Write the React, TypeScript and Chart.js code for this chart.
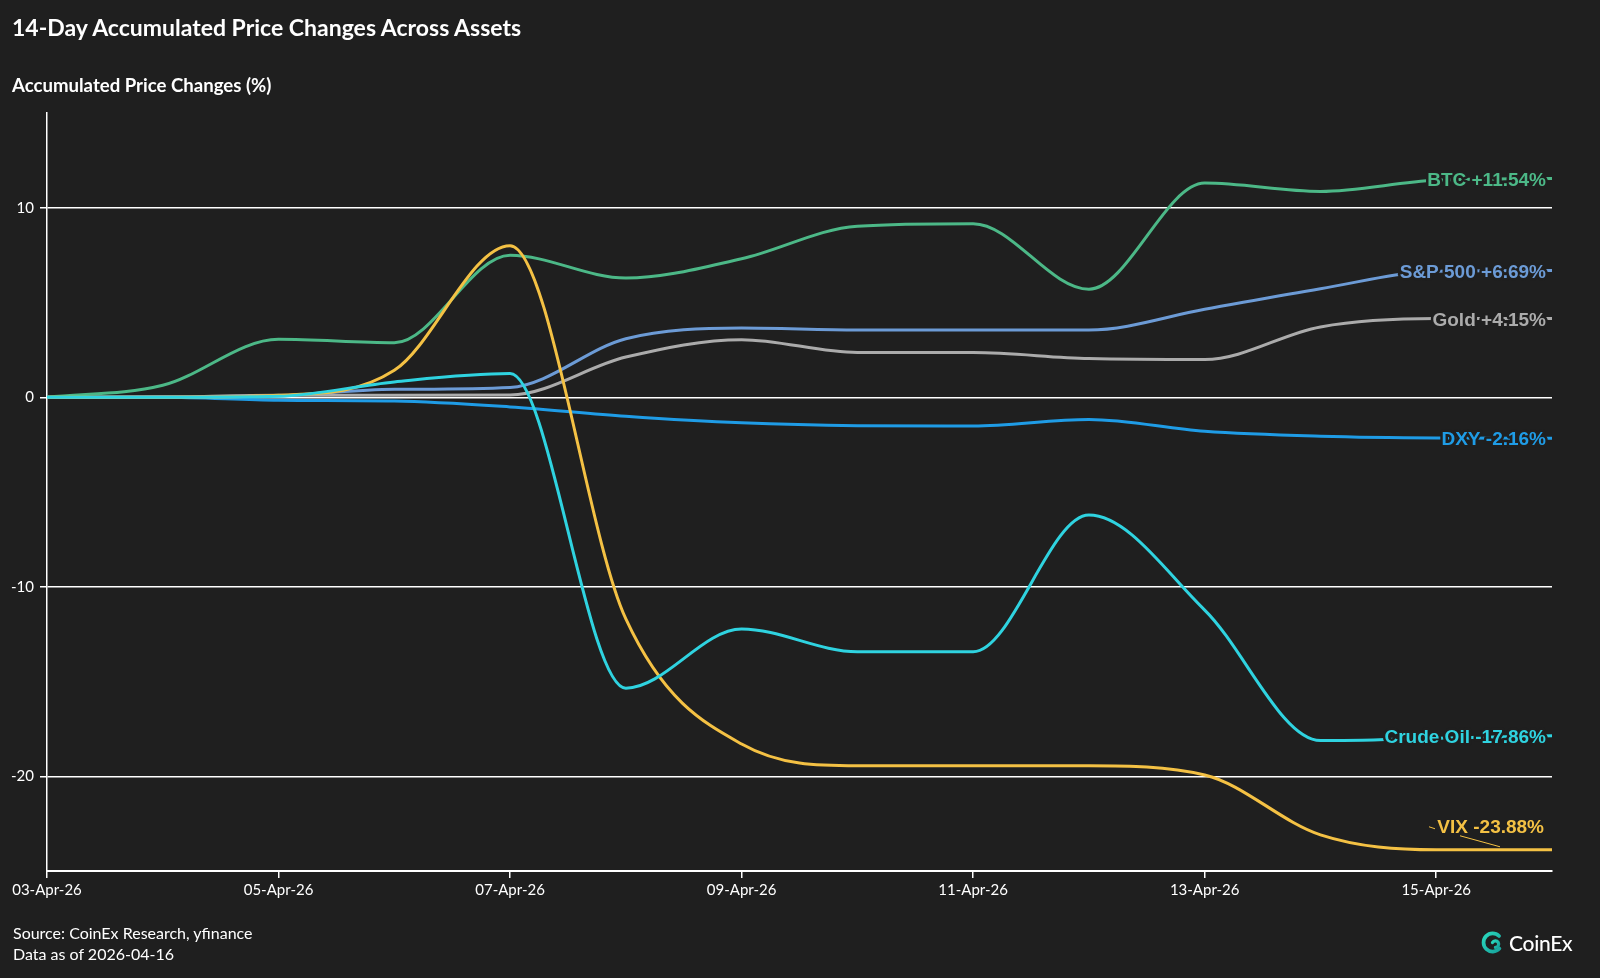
import React, { useEffect, useRef } from 'react';
import { Chart, registerables } from 'chart.js';

Chart.register(...registerables);

// Daily accumulated price changes (%) from 03-Apr-26 through 16-Apr-26
const dates = [
  '03-Apr-26', '04-Apr-26', '05-Apr-26', '06-Apr-26', '07-Apr-26', '08-Apr-26', '09-Apr-26',
  '10-Apr-26', '11-Apr-26', '12-Apr-26', '13-Apr-26', '14-Apr-26', '15-Apr-26', '16-Apr-26',
];
const btc = [0, 0.63, 3.06, 2.88, 7.49, 6.29, 7.31, 9.03, 9.16, 5.7, 11.3, 10.86, 11.45, 11.54];
const sp500 = [0, 0, 0.08, 0.42, 0.52, 3.09, 3.65, 3.55, 3.55, 3.55, 4.64, 5.73, 6.65, 6.69];
const gold = [0, 0.02, 0.1, 0.1, 0.12, 2.12, 3.04, 2.36, 2.36, 2.04, 1.99, 3.71, 4.15, 4.15];
const dxy = [0, 0, -0.16, -0.2, -0.51, -1.0, -1.35, -1.5, -1.52, -1.17, -1.8, -2.06, -2.15, -2.16];
const crudeOil = [0, 0, 0.05, 0.81, 1.25, -15.35, -12.23, -13.43, -13.43, -6.22, -11.23, -18.12, -17.99, -17.86];
const vix = [0, 0, 0.1, 1.42, 8.0, -11.7, -18.3, -19.45, -19.45, -19.45, -19.93, -23.09, -23.88, -23.88];

const yTicks = [-20, -10, 0, 10];

const BG = '#1f1f1f';
const FONT = 'Lato, "Open Sans", sans-serif';
const LABEL_FONT = 'bold 19px "Liberation Sans", Arial, sans-serif';

const series = [
  { name: 'Crude Oil', values: crudeOil, color: '#2fd3e0' },
  { name: 'VIX', values: vix, color: '#f4c144' },
  { name: 'BTC', values: btc, color: '#4cb887' },
  { name: 'S&P 500', values: sp500, color: '#6c9bd6' },
  { name: 'Gold', values: gold, color: '#ababab' },
  { name: 'DXY', values: dxy, color: '#1f9ce6' },
];

const fmt = (v: number) => `${v > 0 ? '+' : ''}${v.toFixed(2)}%`;

// Value labels at the right end of each line
const endLabels = {
  id: 'endLabels',
  afterDatasetsDraw(chart: any) {
    const ctx = chart.ctx;
    ctx.save();
    ctx.font = LABEL_FONT;
    ctx.textAlign = 'right';
    ctx.textBaseline = 'middle';
    chart.data.datasets.forEach((ds: any, i: number) => {
      const meta = chart.getDatasetMeta(i);
      const pt = meta.data[meta.data.length - 1];
      const last = ds.data[ds.data.length - 1];
      const text = `${ds.label} ${fmt(last)}`;
      if (ds.label === 'VIX') {
        const x = pt.x - 8;
        const y = pt.y - 22;
        ctx.strokeStyle = ds.borderColor;
        ctx.lineWidth = 1;
        ctx.beginPath();
        ctx.moveTo(x - 84, y + 8);
        ctx.lineTo(pt.x - 52, pt.y - 3);
        ctx.stroke();
        ctx.beginPath();
        ctx.moveTo(x - 115, y - 1);
        ctx.lineTo(x - 109, y + 1);
        ctx.stroke();
        ctx.fillStyle = ds.borderColor;
        ctx.fillText(text, x, y);
      } else {
        const x = pt.x - 6;
        const y = pt.y + 2;
        ctx.lineJoin = 'round';
        ctx.lineWidth = 5;
        ctx.strokeStyle = BG;
        ctx.strokeText(text, x, y);
        ctx.fillStyle = ds.borderColor;
        ctx.fillText(text, x, y);
      }
    });
    ctx.restore();
  },
};

function CoinExLogo() {
  return (
    <div style={{ position: 'absolute', left: 1481, top: 930, display: 'flex', alignItems: 'center', gap: 5 }}>
      <svg width="23" height="23" viewBox="0 0 21 21">
        <defs>
          <linearGradient id="cx" x1="0" y1="0" x2="1" y2="1">
            <stop offset="0" stopColor="#2ad8bd" />
            <stop offset="1" stopColor="#17a39c" />
          </linearGradient>
        </defs>
        <path d="M16.5 4.6 A8.3 8.3 0 1 0 16.8 16" fill="none" stroke="url(#cx)" strokeWidth="3.4" strokeLinecap="round" />
        <path d="M10.5 10.5 A3 3 0 1 1 13.2 15" fill="none" stroke="url(#cx)" strokeWidth="3" strokeLinecap="round" />
      </svg>
      <span style={{ color: '#fff', font: `500 21px ${FONT}`, letterSpacing: -0.3 }}>CoinEx</span>
    </div>
  );
}

export default function App() {
  const canvasRef = useRef<HTMLCanvasElement | null>(null);

  useEffect(() => {
    document.body.style.margin = '0';
    document.body.style.background = BG;
    const canvas = canvasRef.current;
    if (!canvas) return;
    const chart = new Chart(canvas, {
      type: 'line',
      data: {
        labels: dates,
        datasets: series.map((s) => ({
          label: s.name,
          data: s.values,
          borderColor: s.color,
          backgroundColor: s.color,
          borderWidth: 3,
          pointRadius: 0,
          cubicInterpolationMode: 'monotone' as const,
          fill: false,
        })),
      },
      options: {
        animation: false,
        responsive: false,
        maintainAspectRatio: false,
        layout: { padding: { left: 0, right: 48, top: 113, bottom: 47 } },
        plugins: { legend: { display: false }, tooltip: { enabled: false } },
        scales: {
          x: {
            type: 'category',
            offset: false,
            grid: {
              display: true,
              drawOnChartArea: false,
              drawTicks: true,
              tickLength: 7,
              lineWidth: 1.5,
              color: (c: any) => (c.index % 2 === 0 ? '#ffffff' : 'rgba(0,0,0,0)'),
            },
            border: { display: true, color: '#ffffff', width: 2 },
            ticks: {
              color: '#ffffff',
              font: { family: FONT, size: 15 },
              maxRotation: 0,
              autoSkip: false,
              padding: 3,
              callback: (_v: any, i: number) => (i % 2 === 0 ? dates[i] : ''),
            },
            afterFit: (s: any) => {
              s.height = 60;
            },
          },
          y: {
            min: -25,
            max: 15,
            afterBuildTicks: (s: any) => {
              s.ticks = yTicks.map((v) => ({ value: v }));
            },
            grid: { color: '#ffffff', lineWidth: 1.5, tickLength: 7 },
            border: { display: true, color: '#ffffff', width: 1.5 },
            ticks: { color: '#ffffff', font: { family: FONT, size: 15 }, padding: 6 },
            afterFit: (s: any) => {
              s.width = 47;
            },
          },
        },
      },
      plugins: [endLabels],
    });
    return () => chart.destroy();
  }, []);

  return (
    <div style={{ position: 'relative', width: 1600, height: 978, background: BG, overflow: 'hidden' }}>
      <canvas ref={canvasRef} width={1600} height={978} style={{ position: 'absolute', left: 0, top: 0, display: 'block' }} />
      <div style={{ position: 'absolute', left: 12, top: 12, color: '#fff', font: `bold 23px ${FONT}`, lineHeight: '30px', whiteSpace: 'nowrap' }}>
        14-Day Accumulated Price Changes Across Assets
      </div>
      <div style={{ position: 'absolute', left: 12, top: 73, color: '#fff', font: `bold 18.6px ${FONT}`, lineHeight: '24px', whiteSpace: 'nowrap' }}>
        Accumulated Price Changes (%)
      </div>
      <div style={{ position: 'absolute', left: 13, top: 922, color: '#fff', font: `16px ${FONT}`, lineHeight: '21px', whiteSpace: 'nowrap' }}>
        <div>Source: CoinEx Research, yfinance</div>
        <div>Data as of 2026-04-16</div>
      </div>
      <CoinExLogo />
    </div>
  );
}
